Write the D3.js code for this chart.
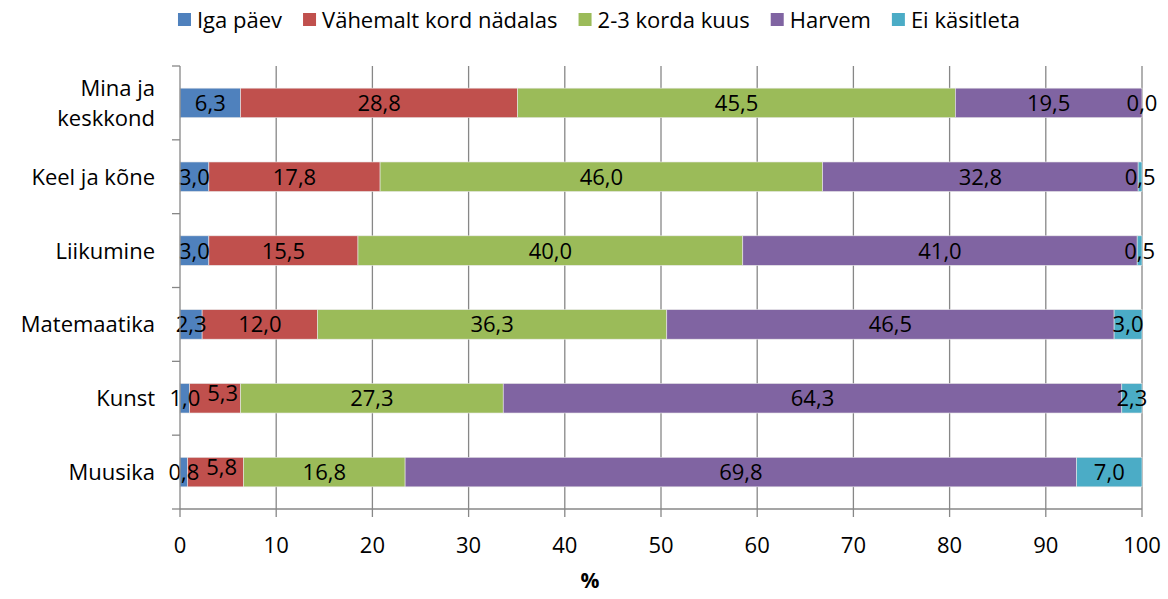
<!DOCTYPE html>
<html>
<head>
<meta charset="utf-8">
<script src="https://cdn.jsdelivr.net/npm/d3@7"></script>
<style>
  body { margin: 0; background: #fff; }
  svg text { font-family: "Open Sans", sans-serif; fill: #000; }
</style>
</head>
<body>
<div id="chart"></div>
<script>
const categories = ["Mina ja keskkond", "Keel ja kõne", "Liikumine", "Matemaatika", "Kunst", "Muusika"]
const seriesNames = ["Iga päev", "Vähemalt kord nädalas", "2-3 korda kuus", "Harvem", "Ei käsitleta"]
const igaPaev = [6.3, 3.0, 3.0, 2.3, 1.0, 0.8]
const korNadalas = [28.8, 17.8, 15.5, 12.0, 5.3, 5.8]
const kordaKuus = [45.5, 46.0, 40.0, 36.3, 27.3, 16.8]
const harvem = [19.5, 32.8, 41.0, 46.5, 64.3, 69.8]
const eiKasitleta = [0.0, 0.5, 0.5, 3.0, 2.3, 7.0]
const xTicks = [0, 10, 20, 30, 40, 50, 60, 70, 80, 90, 100]
const colors = ["#4F81BD", "#C0504D", "#9BBB59", "#8064A2", "#4BACC6"]

const width = 1168, height = 599
const margin = {top: 66, right: 26, bottom: 90, left: 180}
const fontSize = 22

const svg = d3.select("#chart").append("svg")
  .attr("width", width).attr("height", height)

const x = d3.scaleLinear().domain([0, 100]).range([margin.left, width - margin.right]).clamp(true)
const y = d3.scaleBand().domain(categories).range([margin.top, height - margin.bottom]).paddingInner(0.6).paddingOuter(0.3)
const yEdges = d3.scaleBand().domain(categories).range([margin.top, height - margin.bottom])

const table = categories.map((c, i) => ({
  cat: c,
  values: [igaPaev[i], korNadalas[i], kordaKuus[i], harvem[i], eiKasitleta[i]]
}))

// grid
svg.append("g").selectAll("line")
  .data(xTicks.slice(1))
  .enter().append("line")
  .attr("x1", d => x(d)).attr("x2", d => x(d))
  .attr("y1", margin.top).attr("y2", height - margin.bottom)
  .attr("stroke", "#878787").attr("stroke-width", 1.3)

// bars
const rows = svg.append("g").selectAll("g")
  .data(table).enter().append("g")

rows.each(function(row) {
  const g = d3.select(this)
  let acc = 0
  const segs = row.values.map((v, k) => {
    const s = {k, v, x0: acc, x1: acc + v}
    acc += v
    return s
  })
  g.selectAll("rect").data(segs).enter().append("rect")
    .attr("x", d => x(d.x0))
    .attr("width", d => Math.max(0, x(d.x1) - x(d.x0)))
    .attr("y", y(row.cat))
    .attr("height", y.bandwidth())
    .attr("fill", d => colors[d.k])
    .attr("stroke", "#e8e8e8").attr("stroke-width", 0.6)

  // labels centred in segments, nudged when they'd collide
  let prevRight = -Infinity
  segs.forEach(d => {
    const cx = (x(d.x0) + x(d.x1)) / 2
    const t = g.append("text")
      .attr("x", cx)
      .attr("y", y(row.cat) + y.bandwidth() / 2)
      .attr("dy", "0.36em")
      .attr("text-anchor", "middle")
      .style("font-size", fontSize + "px")
      .text(d3.format(".1f")(d.v).replace(".", ","))
    const w = t.node().getComputedTextLength()
    let left = cx - w / 2
    if (left < prevRight + 6) {
      t.attr("x", prevRight + 7 + w / 2).attr("dy", "0.12em")
      left = prevRight + 7
    }
    prevRight = left + w
  })
})

// axes
const axisColor = "#878787"
svg.append("line")
  .attr("x1", margin.left).attr("x2", margin.left)
  .attr("y1", margin.top).attr("y2", height - margin.bottom)
  .attr("stroke", axisColor).attr("stroke-width", 1.3)
svg.append("line")
  .attr("x1", margin.left).attr("x2", width - margin.right)
  .attr("y1", height - margin.bottom).attr("y2", height - margin.bottom)
  .attr("stroke", axisColor).attr("stroke-width", 1.3)

// y ticks between categories
const edges = categories.map(c => yEdges(c)).concat([height - margin.bottom])
svg.append("g").selectAll("line").data(edges).enter().append("line")
  .attr("x1", margin.left - 8).attr("x2", margin.left)
  .attr("y1", d => d).attr("y2", d => d)
  .attr("stroke", axisColor).attr("stroke-width", 1.3)

// x ticks
svg.append("g").selectAll("line").data(xTicks).enter().append("line")
  .attr("x1", d => x(d)).attr("x2", d => x(d))
  .attr("y1", height - margin.bottom).attr("y2", height - margin.bottom + 8)
  .attr("stroke", axisColor).attr("stroke-width", 1.3)

svg.append("g").selectAll("text").data(xTicks).enter().append("text")
  .attr("x", d => x(d))
  .attr("y", height - margin.bottom + 44)
  .attr("text-anchor", "middle")
  .style("font-size", fontSize + "px")
  .text(d => d)

// y labels
svg.append("g").selectAll("text").data(categories).enter().append("text")
  .attr("text-anchor", "end")
  .style("font-size", fontSize + "px")
  .each(function(c) {
    const t = d3.select(this)
    const cy = y(c) + y.bandwidth() / 2
    const lines = c === "Mina ja keskkond" ? ["Mina ja", "keskkond"] : [c]
    lines.forEach((l, i) => {
      t.append("tspan")
        .attr("x", margin.left - 25)
        .attr("y", cy + (i - (lines.length - 1) / 2) * 30)
        .attr("dy", "0.36em")
        .text(l)
    })
  })

// x title
svg.append("text")
  .attr("x", 590).attr("y", height - 11)
  .attr("text-anchor", "middle")
  .style("font-size", "21px").style("font-weight", "bold")
  .text("%")

// legend
const legend = svg.append("g")
let lx = 0
seriesNames.forEach((n, i) => {
  const g = legend.append("g")
  g.append("rect").attr("x", 0).attr("y", -7).attr("width", 13).attr("height", 13).attr("fill", colors[i])
  const t = g.append("text").attr("x", 19).attr("y", 0).attr("dy", "0.36em")
    .style("font-size", fontSize + "px").text(n)
  const w = 19 + t.node().getComputedTextLength()
  g.attr("transform", `translate(${lx},20)`)
  lx += w + 21
})
const legendW = lx - 21
legend.attr("transform", `translate(${599 - legendW / 2},0)`)
</script>
</body>
</html>
